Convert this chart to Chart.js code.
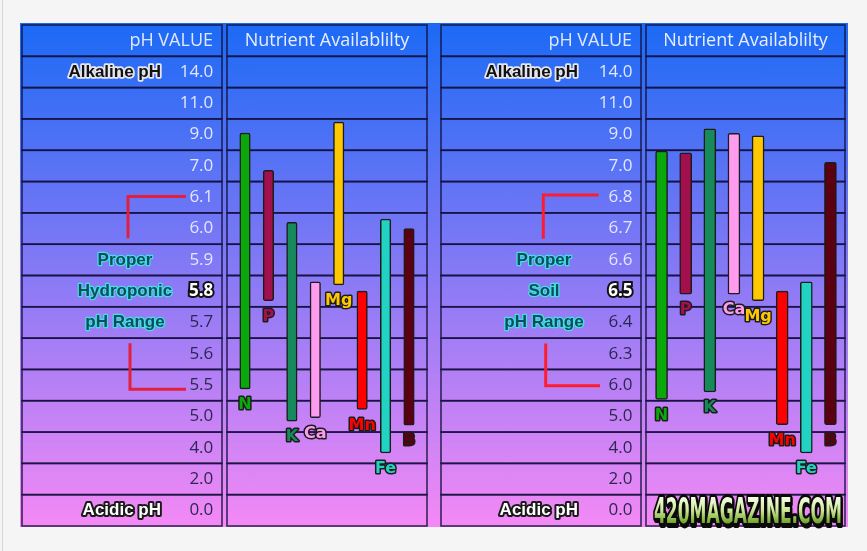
<!DOCTYPE html>
<html><head><meta charset="utf-8">
<script src="https://cdn.jsdelivr.net/npm/chart.js@4/dist/chart.umd.min.js"></script>
<style>
html,body{margin:0;padding:0;background:#f5f5f5;width:867px;height:551px;overflow:hidden;}
#edge{position:absolute;left:2px;top:0;width:1px;height:551px;background:#d6d6d6;}
#bg{position:absolute;left:20px;top:23px;width:828px;height:504px;background:linear-gradient(#1b6af5,#f489f5);}
.wrap{position:absolute;top:0;height:551px;}
</style></head><body>
<div id="edge"></div><div id="bg"></div>
<div class="wrap" style="left:0;width:434px"><canvas id="c1"></canvas></div>
<div class="wrap" style="left:434px;width:433px"><canvas id="c2"></canvas></div>
<script>
// ---- data ----
const nutrients = ['N','P','K','Ca','Mg','Mn','Fe','B'];
const nutrientColors = ['#0aa80a','#a3104e','#178a5c','#ff9cf0','#ffc800','#ff0000','#22d2c2','#5a0010'];
const hydroTicks = [14.0,11.0,9.0,7.0,6.1,6.0,5.9,5.8,5.7,5.6,5.5,5.0,4.0,2.0,0.0];
const soilTicks  = [14.0,11.0,9.0,7.0,6.8,6.7,6.6,6.5,6.4,6.3,6.0,5.0,4.0,2.0,0.0];
const hydroLow  = [5.44,5.77,4.85,4.96,5.82,5.11,3.66,4.72];
const hydroHigh = [9.10,6.87,6.02,5.83,9.80,5.80,6.03,6.00];
const soilLow   = [5.54,6.49,5.78,6.49,6.47,4.74,3.66,4.74];
const soilHigh  = [7.95,7.84,9.37,9.08,8.92,6.50,6.53,7.23];
const hydroSide = ['Proper','Hydroponic','pH Range'];
const soilSide  = ['Proper','Soil','pH Range'];
const headerLeft = 'pH VALUE';
const headerRight = 'Nutrient Availablilty';
const topLabel = 'Alkaline pH';
const bottomLabel = 'Acidic pH';
const logoText = '420MAGAZINE.COM';

// pH value -> row position on the table's (non-linear) pH axis
function rowOf(v, ticks){
  for(let i=0;i<ticks.length-1;i++){
    const a=ticks[i], b=ticks[i+1];
    if(v<=a && v>=b) return i + (a-v)/(a-b);
  }
  return v>ticks[0]?0:ticks.length-1;
}

function outlined(ctx,text,x,y,font,fill,stroke,lw,align){
  ctx.save();
  ctx.font=font; ctx.textAlign=align||'center'; ctx.textBaseline='middle'; ctx.lineJoin='round';
  if(lw){ctx.strokeStyle=stroke; ctx.lineWidth=lw; ctx.strokeText(text,x,y);}
  ctx.fillStyle=fill; ctx.fillText(text,x,y);
  ctx.restore();
}

const TICKFONT = '"Open Sans", "Lato", sans-serif';
const SIDEFONT = 'bold 17px "Liberation Sans", Arial, sans-serif';

function makePanel(id, cfg){
  const hiIndex = cfg.ticks.indexOf(cfg.highlight);
  const tablePlugin = {
    id:'table'+id,
    beforeDraw(chart){
      const ctx=chart.ctx, y=chart.scales.y;
      const rows=[-1]; cfg.ticks.forEach((t,i)=>rows.push(i));
      ctx.save();
      ctx.strokeStyle='rgba(18,16,60,0.78)'; ctx.lineWidth=1.7;
      [cfg.cellL,cfg.cellR].forEach(c=>{
        rows.forEach(r=>{
          const t=y.getPixelForValue(r-0.5), b=y.getPixelForValue(r+0.5);
          ctx.strokeRect(c[0],t,c[1]-c[0],b-t);
        });
      });
      ctx.restore();
      const hy=y.getPixelForValue(-1);
      outlined(ctx,headerLeft,cfg.cellL[1]-9,hy,'18px '+TICKFONT,'#dfe8ff','',0,'right');
      outlined(ctx,headerRight,(cfg.cellR[0]+cfg.cellR[1])/2,hy,'18px '+TICKFONT,'#e6eeff','',0,'center');
      outlined(ctx,topLabel,cfg.endX,y.getPixelForValue(0),SIDEFONT,'#111','#e6e6ee',3.5,'right');
      outlined(ctx,bottomLabel,cfg.endX,y.getPixelForValue(cfg.ticks.length-1),SIDEFONT,'#ffffff','#1a1a1a',4,'right');
      cfg.side.forEach((s,k)=>{
        outlined(ctx,s,cfg.sideX,y.getPixelForValue(hiIndex-1+k),SIDEFONT,'#0b4f5a','#44dde8',2.5,'center');
      });
      // red brackets
      const br=cfg.brackets;
      ctx.save(); ctx.strokeStyle=cfg.bracketColor; ctx.lineWidth=3; ctx.lineCap='butt'; ctx.lineJoin='miter';
      ctx.beginPath();
      ctx.moveTo(br.topX2,y.getPixelForValue(br.topRow));
      ctx.lineTo(br.topX,y.getPixelForValue(br.topRow));
      ctx.lineTo(br.topX,y.getPixelForValue(br.topEnd));
      ctx.stroke();
      ctx.beginPath();
      ctx.moveTo(br.botX,y.getPixelForValue(br.botStart));
      ctx.lineTo(br.botX,y.getPixelForValue(br.botRow));
      ctx.lineTo(br.botX2,y.getPixelForValue(br.botRow));
      ctx.stroke();
      ctx.restore();
    },
    afterDatasetsDraw(chart){
      const ctx=chart.ctx; const meta=chart.getDatasetMeta(0);
      meta.data.forEach((el,i)=>{
        const by=Math.max(el.base,el.y);
        outlined(ctx,nutrients[i],el.x,by+16,'bold 16px "DejaVu Sans", Verdana, sans-serif',nutrientColors[i],'#1c1c1c',3,'center');
      });
    },
    afterDraw(chart){
      if(!cfg.logo) return;
      const ctx=chart.ctx;
      ctx.save();
      ctx.font='bold 36px "Liberation Sans Narrow", "DejaVu Sans Condensed", "Liberation Sans", sans-serif';
      ctx.textBaseline='alphabetic'; ctx.textAlign='left';
      const w=ctx.measureText(logoText).width;
      const sx=188/w;
      ctx.translate(cfg.logo.x,cfg.logo.y); ctx.scale(sx,1);
      ctx.lineJoin='round';
      ctx.strokeStyle='#0a0a0a'; ctx.lineWidth=6;
      ctx.strokeText(logoText,2,2);
      ctx.strokeText(logoText,0,0);
      const g=ctx.createLinearGradient(0,-26,0,0);
      g.addColorStop(0,'#f6ffe6'); g.addColorStop(0.5,'#cfe89a'); g.addColorStop(1,'#6ea326');
      ctx.fillStyle=g; ctx.fillText(logoText,0,0);
      ctx.restore();
    }
  };
  return new Chart(document.getElementById(id),{
    type:'bar',
    data:{labels:nutrients,datasets:[{
      data:nutrients.map((n,i)=>[rowOf(cfg.low[i],cfg.ticks),rowOf(cfg.high[i],cfg.ticks)]),
      backgroundColor:nutrientColors,
      borderColor:'#1c1c1c',borderWidth:1.5,borderSkipped:false,borderRadius:2,
      barThickness:cfg.barW
    }]},
    options:{
      responsive:true,maintainAspectRatio:false,animation:false,
      layout:{padding:{left:0,right:cfg.padR,top:25,bottom:25}},
      plugins:{legend:{display:false},tooltip:{enabled:false}},
      scales:{
        x:{display:false},
        y:{
          type:'linear',min:-1.5,max:14.5,reverse:true,
          grid:{display:false,drawTicks:false},border:{display:false},
          afterBuildTicks:(axis)=>{axis.ticks=cfg.ticks.map((t,i)=>({value:i}));},
          afterFit:(axis)=>{axis.width=cfg.axisW; axis.paddingTop=0; axis.paddingBottom=0;},
          ticks:{
            autoSkip:false,padding:cfg.tickPad,
            callback:(v,i)=>cfg.ticks[i].toFixed(1),
            color:(c)=>c.index<hiIndex?'#e4e6ff':(c.index===hiIndex?'#ffffff':'#2a2852'),
            textStrokeColor:'#111111',
            textStrokeWidth:(c)=>c.index===hiIndex?4:0,
            font:(c)=>({family:TICKFONT,size:17,weight:c.index===hiIndex?'bold':'normal'})
          }
        }
      }
    },
    plugins:[tablePlugin]
  });
}

makePanel('c1',{
  ticks:hydroTicks,low:hydroLow,high:hydroHigh,side:hydroSide,highlight:5.8,
  cellL:[22,222],cellR:[227,427],axisW:233.3,padR:13.3,tickPad:20,barW:10.5,
  sideX:125,endX:161,bracketColor:'#e2203c',
  brackets:{topX:128,topX2:186,topRow:3.98,topEnd:5.31,botX:130,botX2:186,botStart:8.66,botRow:10.13}
});
makePanel('c2',{
  ticks:soilTicks,low:soilLow,high:soilHigh,side:soilSide,highlight:6.5,
  cellL:[7,207],cellR:[212,411],axisW:215.5,padR:24.5,tickPad:17,barW:12,
  sideX:110,endX:144,bracketColor:'#ff1c30',
  brackets:{topX:109.3,topX2:164.5,topRow:3.93,topEnd:5.33,botX:111.7,botX2:166,botStart:8.67,botRow:10.02},
  logo:{x:220,y:523}
});
</script>
</body></html>
